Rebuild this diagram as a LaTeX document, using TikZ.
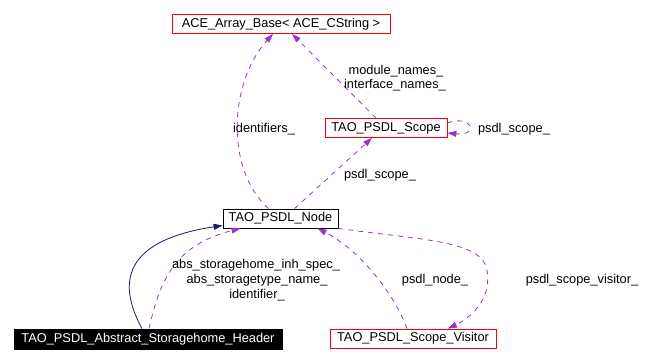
\documentclass[tikz,border=0pt]{standalone}
\usepackage{fontspec}
\setmainfont{Liberation Sans}
\usetikzlibrary{arrows.meta}
\definecolor{edgepurple}{HTML}{9A32CD}
\definecolor{edgenavy}{HTML}{191970}
\begin{document}
\begin{tikzpicture}[x=1pt,y=-1pt,
  txt/.style={font=\fontsize{12.8}{14}\selectfont},
  cls/.style={txt, draw=black, line width=0.8pt, fill=white, inner sep=0pt, minimum height=19pt},
  redcls/.style={cls, draw=red},
  usage/.style={draw=edgepurple, line width=0.8pt, dash pattern=on 5pt off 5pt,
    -{Triangle[length=9pt,width=6pt,fill=edgepurple]}},
  inherit/.style={draw=edgenavy, line width=0.8pt,
    -{Triangle[length=9pt,width=6pt,fill=edgenavy]}},
  lbl/.style={txt, inner sep=0pt}
]
\useasboundingbox (0,0) rectangle (658,363);

% classes
\node[redcls, minimum width=218pt] (base) at (281,24) {ACE\_Array\_Base< ACE\_CString >};
\node[redcls, minimum width=122pt] (scope) at (386,128) {TAO\_PSDL\_Scope};
\node[cls, minimum width=115pt] (node) at (280.5,218.5) {TAO\_PSDL\_Node};
\node[cls, fill=black, text=white, minimum width=268pt, minimum height=20pt] (hdr) at (148,339) {TAO\_PSDL\_Abstract\_Storagehome\_Header};
\node[redcls, minimum width=166pt] (vis) at (413,338.5) {TAO\_PSDL\_Scope\_Visitor};

% member relations
\draw[usage] ([xshift=-12pt]node.north) .. controls (225,170) and (229,82) .. ([xshift=-8pt]base.south);
\draw[usage] ([xshift=-10pt]scope.north) -- ([xshift=11pt]base.south);
\draw[usage] ([yshift=5pt]scope.east) .. controls (472,114) and (480,136) .. ([yshift=-5pt]scope.east);
\draw[usage] ([xshift=14pt]node.north) -- ([xshift=-14pt]scope.south);
\draw[usage] ([xshift=1pt]hdr.north) .. controls (160,280) and (175,245) .. ([xshift=-40pt]node.south);
\draw[usage] ([xshift=-6pt]vis.north) .. controls (395,295) and (360,250) .. ([xshift=37pt]node.south);
\draw[usage] (node.south east) .. controls (420,240) and (482,240) .. (487,270)
  .. controls (492,300) and (470,318) .. ([xshift=35pt]vis.north);

% inheritance
\draw[inherit] ([xshift=-6pt]hdr.north) .. controls (110,270) and (140,238) .. ([yshift=-7pt]node.west);

% labels
\node[lbl] (l1) at (264,129) {identifiers\_};
\node[lbl] (l2) at (396,71) {module\_names\_};
\node[lbl] (l3) at (395,85) {interface\_names\_};
\node[lbl] (l4) at (514,129) {psdl\_scope\_};
\node[lbl] (l5) at (380,175) {psdl\_scope\_};
\node[lbl] (l6) at (256,265) {abs\_storagehome\_inh\_spec\_};
\node[lbl] (l7) at (257,280) {abs\_storagetype\_name\_};
\node[lbl] (l8) at (257,295) {identifier\_};
\node[lbl] (l9) at (435,280) {psdl\_node\_};
\node[lbl] (l10) at (582,280) {psdl\_scope\_visitor\_};
\end{tikzpicture}
\end{document}
